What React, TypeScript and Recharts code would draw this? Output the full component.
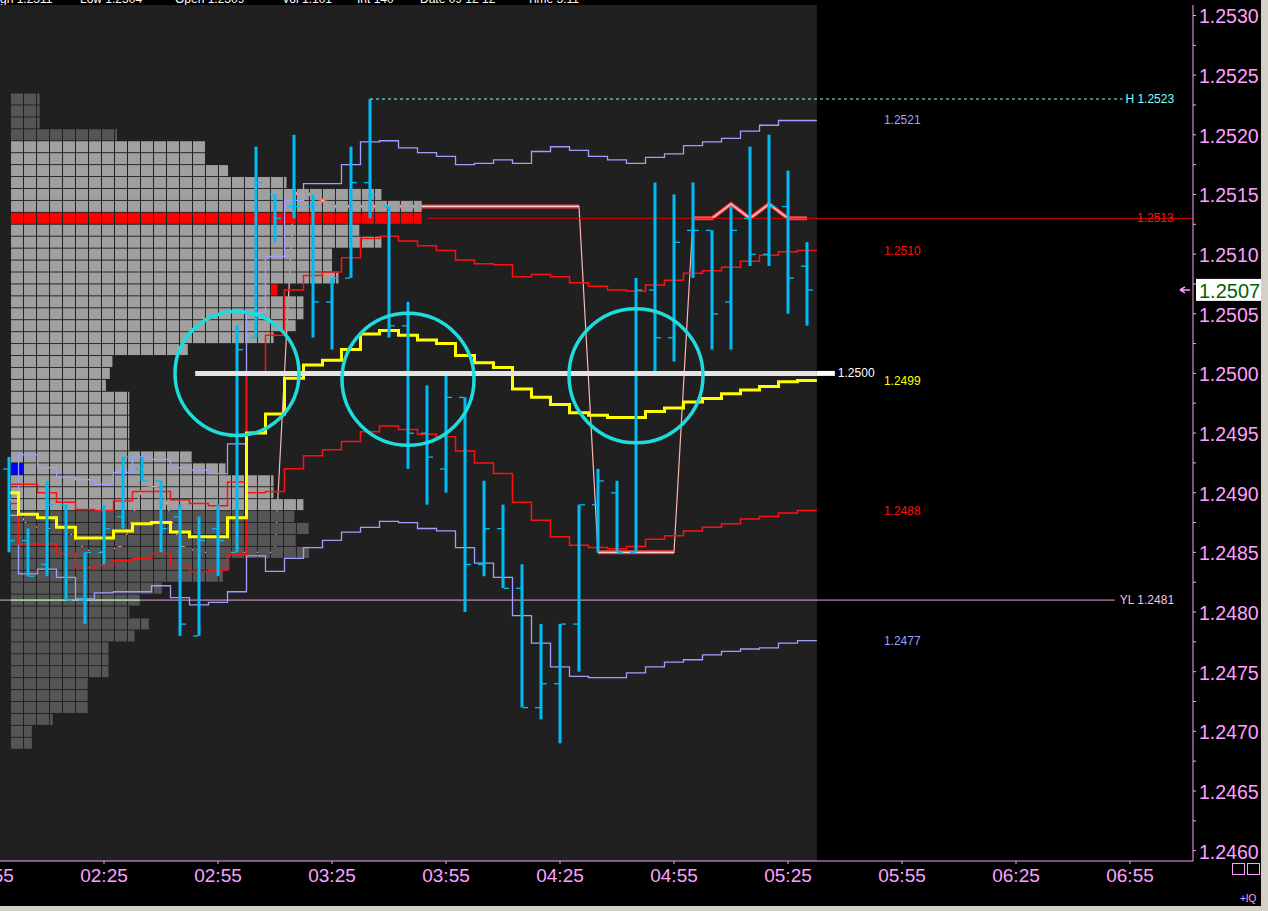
import React from 'react';
import {
  ComposedChart, Line, Bar, Scatter, XAxis, YAxis,
  ReferenceArea, ReferenceLine, ReferenceDot,
} from 'recharts';

// 5 minute bars of the session
const barTimes = [
  '02:00', '02:05', '02:10', '02:15', '02:20', '02:25', '02:30', '02:35', '02:40', '02:45', '02:50', '02:55',
  '03:00', '03:05', '03:10', '03:15', '03:20', '03:25', '03:30', '03:35', '03:40', '03:45', '03:50', '03:55',
  '04:00', '04:05', '04:10', '04:15', '04:20', '04:25', '04:30', '04:35', '04:40', '04:45', '04:50', '04:55',
  '05:00', '05:05', '05:10', '05:15', '05:20', '05:25', '05:30',
];
const opens = [
  1.2492, 1.2486, 1.2484, 1.2489, 1.2481, 1.2485, 1.2488, 1.2492, 1.2491, 1.2488, 1.2478, 1.2487,
  1.2485, 1.2503, 1.2515, 1.2514, 1.2514, 1.2506, 1.2508, 1.2516, 1.2514, 1.2504, 1.2495, 1.2492,
  1.2498, 1.2484, 1.2487, 1.2482, 1.2472, 1.2474, 1.2479, 1.2489, 1.2490, 1.2485, 1.2507, 1.2503,
  1.2512, 1.2512, 1.2506, 1.2513, 1.2510, 1.2514, 1.2509,
];
const highs = [
  1.2493, 1.2487, 1.2491, 1.2489, 1.2485, 1.2489, 1.2493, 1.2493, 1.2491, 1.2489, 1.2488, 1.2489,
  1.2504, 1.2519, 1.2515, 1.2520, 1.2515, 1.2508, 1.2519, 1.2523, 1.2514, 1.2506, 1.2499, 1.2500,
  1.2498, 1.2491, 1.2489, 1.2484, 1.2479, 1.2479, 1.2489, 1.2492, 1.2491, 1.2508, 1.2516, 1.2515,
  1.2516, 1.2512, 1.2514, 1.2519, 1.2520, 1.2517, 1.2511,
];
const lows = [
  1.2485, 1.2483, 1.2483, 1.2481, 1.2479, 1.2484, 1.2487, 1.2491, 1.2485, 1.2478, 1.2478, 1.2483,
  1.2485, 1.2503, 1.2511, 1.2513, 1.2503, 1.2502, 1.2508, 1.2513, 1.2503, 1.2492, 1.2489, 1.2490,
  1.2480, 1.2483, 1.2482, 1.2472, 1.2471, 1.2469, 1.2475, 1.2485, 1.2485, 1.2485, 1.2500, 1.2501,
  1.2508, 1.2502, 1.2502, 1.2509, 1.2509, 1.2505, 1.2504,
];
const closes = [
  1.2486, 1.2483, 1.2489, 1.2481, 1.2485, 1.2487, 1.2493, 1.2491, 1.2487, 1.2479, 1.2486, 1.2486,
  1.2502, 1.2516, 1.2513, 1.2514, 1.2506, 1.2508, 1.2516, 1.2515, 1.2504, 1.2495, 1.2493, 1.2498,
  1.2484, 1.2487, 1.2482, 1.2472, 1.2474, 1.2479, 1.2489, 1.2491, 1.2485, 1.2507, 1.2503, 1.2511,
  1.2512, 1.2505, 1.2512, 1.2510, 1.2514, 1.2508, 1.2507,
];

// session vwap and its two deviation bands
const vwap = [
  1.24900, 1.24882, 1.24879, 1.24871, 1.24862, 1.24862, 1.24868, 1.24874, 1.24875, 1.24867, 1.24863, 1.24863,
  1.24879, 1.24950, 1.24966, 1.24996, 1.25007, 1.25011, 1.25020, 1.25033, 1.25036, 1.25032, 1.25028, 1.25025,
  1.25015, 1.25009, 1.25005, 1.24987, 1.24980, 1.24974, 1.24967, 1.24965, 1.24963, 1.24963, 1.24968, 1.24971,
  1.24976, 1.24979, 1.24983, 1.24986, 1.24989, 1.24993, 1.24994,
];
const band1Upper = [
  1.24907, 1.24907, 1.24900, 1.24892, 1.24886, 1.24885, 1.24893, 1.24901, 1.24901, 1.24894, 1.24891, 1.24889,
  1.24909, 1.25000, 1.25032, 1.25070, 1.25082, 1.25085, 1.25097, 1.25113, 1.25115, 1.25111, 1.25107, 1.25103,
  1.25095, 1.25092, 1.25091, 1.25081, 1.25083, 1.25081, 1.25076, 1.25073, 1.25070, 1.25069, 1.25074, 1.25078,
  1.25084, 1.25086, 1.25089, 1.25094, 1.25099, 1.25102, 1.25103,
];
const band1Lower = [
  1.24891, 1.24857, 1.24857, 1.24849, 1.24837, 1.24839, 1.24843, 1.24845, 1.24849, 1.24839, 1.24834, 1.24835,
  1.24848, 1.24900, 1.24901, 1.24920, 1.24931, 1.24936, 1.24943, 1.24951, 1.24956, 1.24953, 1.24949, 1.24947,
  1.24935, 1.24925, 1.24916, 1.24892, 1.24877, 1.24863, 1.24856, 1.24854, 1.24853, 1.24855, 1.24861, 1.24864,
  1.24868, 1.24871, 1.24874, 1.24878, 1.24880, 1.24883, 1.24885,
];
const band2Upper = [
  1.24881, 1.24932, 1.24921, 1.24913, 1.24911, 1.24907, 1.24917, 1.24930, 1.24928, 1.24921, 1.24919, 1.24916,
  1.24941, 1.25051, 1.25098, 1.25145, 1.25159, 1.25159, 1.25175, 1.25194, 1.25195, 1.25189, 1.25185, 1.25182,
  1.25175, 1.25176, 1.25179, 1.25176, 1.25186, 1.25190, 1.25187, 1.25182, 1.25179, 1.25176, 1.25181, 1.25184,
  1.25191, 1.25194, 1.25197, 1.25203, 1.25208, 1.25212, 1.25212,
];
const band2Lower = [
  1.24881, 1.24832, 1.24836, 1.24829, 1.24811, 1.24816, 1.24817, 1.24817, 1.24822, 1.24812, 1.24806, 1.24808,
  1.24817, 1.24847, 1.24834, 1.24845, 1.24854, 1.24860, 1.24867, 1.24871, 1.24876, 1.24875, 1.24870, 1.24868,
  1.24854, 1.24841, 1.24829, 1.24797, 1.24774, 1.24754, 1.24746, 1.24745, 1.24745, 1.24749, 1.24754, 1.24758,
  1.24760, 1.24764, 1.24767, 1.24769, 1.24770, 1.24774, 1.24776,
];

// trailing stop, it sits under the profile
const trailStop = [
  1.24896, 1.24872, 1.24870, 1.24870, 1.24852, 1.24850, 1.24856, 1.24904, 1.24906, 1.24856, 1.24850, 1.24850,
  1.24850, 1.24850, 1.24850, 1.25151, 1.25150, 1.25140, 1.25140, 1.25140, 1.25140, 1.25140, 1.25140, 1.25140,
  1.25140, 1.25140, 1.25140, 1.25140, 1.25140, 1.25140, 1.25140, 1.24850, 1.24850, 1.24850, 1.24850, 1.24850,
  1.25130, 1.25130, 1.25142, 1.25130, 1.25142, 1.25130, 1.25130,
];
const trailHeavyRuns = [[15, 30], [31, 35], [36, 42]];

// market profile: one row per pip, length in tpo cells
const profilePrices = [
  1.2523, 1.2522, 1.2521, 1.2520, 1.2519, 1.2518, 1.2517, 1.2516, 1.2515, 1.2514, 1.2513,
  1.2512, 1.2511, 1.2510, 1.2509, 1.2508, 1.2507, 1.2506, 1.2505, 1.2504, 1.2503, 1.2502,
  1.2501, 1.2500, 1.2499, 1.2498, 1.2497, 1.2496, 1.2495, 1.2494, 1.2493, 1.2492, 1.2491,
  1.2490, 1.2489, 1.2488, 1.2487, 1.2486, 1.2485, 1.2484, 1.2483, 1.2482, 1.2481, 1.2480,
  1.2479, 1.2478, 1.2477, 1.2476, 1.2475, 1.2474, 1.2473, 1.2472, 1.2471, 1.2470, 1.2469,
];
const profileLengths = [
  2.2, 2.2, 2.2, 8.15, 15, 15, 16.7, 21.2, 28.5, 31.6, 31.6,
  26.8, 28.5, 24.7, 24.7, 25.2, 20.5, 22.5, 22.5, 21.9, 20.2, 13.6,
  7.8, 7.6, 7.3, 9.1, 9.1, 9.1, 9.1, 9.1, 13.9, 16.5, 20.2,
  20.2, 22.5, 21.8, 22.9, 21.9, 23, 16.8, 16.3, 11.6, 9.9, 9.1,
  10.6, 9.5, 7.5, 7.5, 7.5, 5.9, 5.9, 5.9, 3.2, 1.6, 1.6,
];
const pocPrice = 1.2513;
const valueAreaHigh = 1.2519;
const valueAreaLow = 1.2489;
const profileMarks = [
  { price: 1.2507, col: 20, color: '#ff0000' },
  { price: 1.2492, col: 0, color: '#0000ff' },
];
const profileStart = '02:00:32';
const cellMinutes = 3.42;

// reference levels
const sessionHigh = 1.2523;
const sessionHighFrom = '03:35';
const sessionHighTo = '06:53';
const yesterdayLow = 1.2481;
const yesterdayLowTo = '06:51';
const pocLineFrom = '03:50';
const roundLevel = 1.25;
const roundFrom = '02:49';
const roundTo = '05:37:20';
const sessionEnd = '05:32:36';
const bandLabelAt = '05:50:15';
const pocLabelAt = '06:56:50';
const lastPrice = 1.2507;

const circleTimes = ['03:00', '03:45', '04:45'];
const circlePrices = [1.25, 1.24995, 1.24998];
const circleRadii = [62, 66, 67];

const timeTicks = ['01:55', '02:25', '02:55', '03:25', '03:55', '04:25', '04:55', '05:25', '05:55', '06:25', '06:55'];
const priceLabels = [
  1.2460, 1.2465, 1.2470, 1.2475, 1.2480, 1.2485, 1.2490, 1.2495,
  1.2500, 1.2505, 1.2510, 1.2515, 1.2520, 1.2525, 1.2530,
];

const X_DOMAIN: [number, number] = [117.63, 431.58];
const Y_DOMAIN: [number, number] = [1.245913, 1.253088];

const PINK = '#ffa0ff';
const BAR_BLUE = '#00bcf5';
const LAVENDER = '#9e9eff';
const RED = '#ff1010';
const YELLOW = '#ffff00';
const RING = '#1fdcdc';
const FONT = '"Liberation Sans", Arial, sans-serif';

const toMin = (s: string) => {
  const [h, m, sec = 0] = s.split(':').map(Number);
  return h * 60 + m + sec / 60;
};
const fmtTime = (v: number) => {
  const h = Math.floor(v / 60);
  const m = Math.round(v - h * 60);
  return `${String(h).padStart(2, '0')}:${String(m).padStart(2, '0')}`;
};
const trunc4 = (v: number) => (Math.floor(v * 1e4 + 1e-6) / 1e4).toFixed(4);

const rows: Record<string, any>[] = barTimes.map((s, i) => {
  const row: Record<string, any> = {
    t: toMin(s), o: opens[i], h: highs[i], l: lows[i], c: closes[i],
    range: [lows[i], highs[i]],
    vwap: vwap[i], u1: band1Upper[i], d1: band1Lower[i], u2: band2Upper[i], d2: band2Lower[i],
    trail: trailStop[i],
  };
  trailHeavyRuns.forEach(([a, b], k) => {
    row[`heavy${k}`] = i >= a && i <= b ? trailStop[i] : null;
  });
  return row;
});
const last = barTimes.length - 1;
// bands run on to the end of the session
rows.push({
  t: toMin(sessionEnd), range: null,
  vwap: vwap[last], u1: band1Upper[last], d1: band1Lower[last], u2: band2Upper[last], d2: band2Lower[last],
  trail: null, heavy0: null, heavy1: null, heavy2: null,
});

const profileCells = profilePrices.flatMap((p, r) => {
  const len = profileLengths[r];
  const n = Math.ceil(len - 1e-6);
  const inValue = p <= valueAreaHigh + 1e-9 && p >= valueAreaLow - 1e-9;
  const tone = p === pocPrice ? '#ff0000' : inValue ? '#a0a0a0' : '#555555';
  return Array.from({ length: n }, (_, col) => {
    const mark = profileMarks.find(m => m.price === p && m.col === col);
    return {
      t: toMin(profileStart) + col * cellMinutes,
      p,
      frac: Math.min(1, len - col),
      fill: mark ? mark.color : tone,
    };
  });
});

const yTicks = priceLabels.flatMap((v, i) =>
  i < priceLabels.length - 1 ? [v, (v + priceLabels[i + 1]) / 2] : [v]);

const CellShape = (props: any) => {
  const { cx, cy, payload } = props;
  if (cx == null || cy == null) return null;
  const w = payload.frac >= 1 ? 12 : payload.frac * 13;
  return <rect x={cx} y={cy - 5.5} width={w} height={11} fill={payload.fill} />;
};

const OhlcShape = (props: any) => {
  const { x, y, width, height, payload } = props;
  if (x == null || !payload || payload.h == null) return null;
  const top = Math.min(y, y + height);
  const span = Math.abs(height);
  const mid = x + width / 2;
  const k = span / (payload.h - payload.l || 1);
  const oy = top + (payload.h - payload.o) * k;
  const cy = top + (payload.h - payload.c) * k;
  return (
    <g>
      <rect x={mid - 1.5} y={top} width={3} height={Math.max(span, 1)} fill={BAR_BLUE} />
      <rect x={mid - 6} y={oy - 0.5} width={5} height={1.3} fill={BAR_BLUE} />
      <rect x={mid + 1} y={cy - 0.5} width={5} height={1.3} fill={BAR_BLUE} />
    </g>
  );
};

const TimeTick = (props: any) => {
  const { x, y, payload } = props;
  return (
    <g>
      <line x1={x} x2={x} y1={y} y2={y + 3} stroke={PINK} />
      <text x={x} y={y + 21} textAnchor="middle" fill={PINK} fontSize={19} fontFamily={FONT}>
        {fmtTime(payload.value)}
      </text>
    </g>
  );
};

const PriceTick = (props: any) => {
  const { x, y, payload } = props;
  const major = priceLabels.some(v => Math.abs(v - payload.value) < 1e-9);
  return (
    <g>
      <line x1={x} x2={x + 3} y1={y} y2={y} stroke={PINK} />
      {major && (
        <text x={x + 6} y={y + 8} fill={PINK} fontSize={19.5} fontFamily={FONT}>
          {payload.value.toFixed(4)}
        </text>
      )}
    </g>
  );
};

const textAt = (text: string, color: string, dx = 0) => (p: any) => (
  <text x={p.cx + dx} y={p.cy + 4} fill={color} fontSize={12} fontFamily={FONT}>{text}</text>
);

const bandLabels = [
  { v: band2Upper[last], color: LAVENDER },
  { v: band1Upper[last], color: RED },
  { v: vwap[last], color: YELLOW },
  { v: band1Lower[last], color: RED },
  { v: band2Lower[last], color: LAVENDER },
];

const headerWords: [string, number][] = [
  ['gh 1.2511', 0], ['Low 1.2504', 80], ['Open 1.2509', 175], ['Vol 1.101', 282],
  ['Int 140', 357], ['Date 09 12 12', 420], ['Time 5:11', 527],
];

const LastPrice = (p: any) => (
  <g>
    <path
      d={`M${p.cx - 13},${p.cy} L${p.cx - 3},${p.cy} M${p.cx - 13},${p.cy} l5,-3 M${p.cx - 13},${p.cy} l5,3`}
      stroke={PINK} strokeWidth={1.5} fill="none"
    />
    <rect x={p.cx + 3} y={p.cy - 11} width={66} height={22} fill="#ffffff" />
    <text x={p.cx + 6} y={p.cy + 8} fill="#006400" fontSize={20} fontFamily={FONT}>{lastPrice.toFixed(4)}</text>
  </g>
);

export default function App() {
  const sEnd = toMin(sessionEnd);
  return (
    <div style={{ position: 'relative', width: 1268, height: 911, background: '#d4d0c8', overflow: 'hidden' }}>
      <style>{'body{margin:0;}'}</style>
      <div style={{ position: 'absolute', left: 0, top: 0, width: 1261, height: 906, background: '#000' }}>
        <ComposedChart
          width={1261}
          height={906}
          data={rows}
          margin={{ top: 5, right: 0, bottom: 0, left: 0 }}
        >
          <XAxis
            dataKey="t" type="number" domain={X_DOMAIN} allowDataOverflow
            ticks={timeTicks.map(toMin)} interval={0} height={45}
            axisLine={{ stroke: PINK }} tickLine={false} tickSize={0} tickMargin={0}
            tick={(p: any) => <TimeTick {...p} />}
          />
          <YAxis
            orientation="right" type="number" domain={Y_DOMAIN} allowDataOverflow
            ticks={yTicks} interval={0} width={68}
            axisLine={{ stroke: PINK }} tickLine={false} tickSize={0} tickMargin={0}
            tick={(p: any) => <PriceTick {...p} />}
          />

          <ReferenceArea x1={X_DOMAIN[0]} x2={sEnd} fill="#202020" fillOpacity={1} stroke="none" zIndex={1} />

          <Line dataKey="trail" type="linear" stroke="#ffb4b4" strokeWidth={1.2} dot={false} isAnimationActive={false} zIndex={2} />
          {trailHeavyRuns.map((_, k) => (
            <Line key={`ha${k}`} dataKey={`heavy${k}`} type="linear" stroke="#ff3c3c" strokeWidth={4} dot={false}
              connectNulls={false} isAnimationActive={false} zIndex={2} />
          ))}
          {trailHeavyRuns.map((_, k) => (
            <Line key={`hb${k}`} dataKey={`heavy${k}`} type="linear" stroke="#ffd0d0" strokeWidth={1.3} dot={false}
              connectNulls={false} isAnimationActive={false} zIndex={2} />
          ))}

          <Scatter data={profileCells} dataKey="p" shape={CellShape} isAnimationActive={false} zIndex={3} />

          <ReferenceLine
            segment={[{ x: toMin(pocLineFrom), y: pocPrice }, { x: X_DOMAIN[1], y: pocPrice }]}
            stroke="#e00000" strokeWidth={1} zIndex={4}
          />
          <ReferenceLine
            segment={[{ x: X_DOMAIN[0], y: yesterdayLow }, { x: toMin(yesterdayLowTo), y: yesterdayLow }]}
            stroke="#e8a8e8" strokeWidth={1} zIndex={4}
          />
          <ReferenceLine
            segment={[{ x: toMin(profileStart), y: yesterdayLow }, { x: toMin('02:34:30'), y: yesterdayLow }]}
            stroke="#a0ffa0" strokeWidth={1} zIndex={4}
          />
          <ReferenceLine
            segment={[{ x: toMin(sessionHighFrom), y: sessionHigh }, { x: toMin(sessionHighTo), y: sessionHigh }]}
            stroke="#80ffff" strokeWidth={1} strokeDasharray="3 3" zIndex={4}
          />

          <Line dataKey="u2" type="step" stroke={LAVENDER} strokeWidth={1.3} dot={false} isAnimationActive={false} zIndex={5} />
          <Line dataKey="d2" type="step" stroke={LAVENDER} strokeWidth={1.3} dot={false} isAnimationActive={false} zIndex={5} />
          <Line dataKey="u1" type="step" stroke={RED} strokeWidth={1.5} dot={false} isAnimationActive={false} zIndex={5} />
          <Line dataKey="d1" type="step" stroke={RED} strokeWidth={1.5} dot={false} isAnimationActive={false} zIndex={5} />
          <Line dataKey="vwap" type="step" stroke={YELLOW} strokeWidth={3} dot={false} isAnimationActive={false} zIndex={5} />

          <Bar dataKey="range" barSize={3} shape={OhlcShape} isAnimationActive={false} zIndex={6} />

          <ReferenceLine
            segment={[{ x: toMin(roundFrom), y: roundLevel }, { x: sEnd, y: roundLevel }]}
            stroke="#e4e4e4" strokeWidth={5} zIndex={7}
          />
          <ReferenceLine
            segment={[{ x: sEnd, y: roundLevel }, { x: toMin(roundTo), y: roundLevel }]}
            stroke="#ffffff" strokeWidth={5} zIndex={7}
          />

          {circleTimes.map((s, i) => (
            <ReferenceDot key={s} x={toMin(s)} y={circlePrices[i]} r={circleRadii[i]}
              fill="none" stroke={RING} strokeWidth={3.5} ifOverflow="visible" zIndex={8} />
          ))}

          <ReferenceDot x={toMin(roundTo)} y={roundLevel} r={0} ifOverflow="visible"
            shape={textAt(roundLevel.toFixed(4), '#ffffff', 3)} zIndex={9} />
          {bandLabels.map(b => (
            <ReferenceDot key={`${b.color}${b.v}`} x={toMin(bandLabelAt)} y={b.v} r={0} ifOverflow="visible"
              shape={textAt(trunc4(b.v), b.color)} zIndex={9} />
          ))}
          <ReferenceDot x={toMin(sessionHighTo)} y={sessionHigh} r={0} ifOverflow="visible"
            shape={textAt(`H ${sessionHigh.toFixed(4)}`, '#80ffff', 3)} zIndex={9} />
          <ReferenceDot x={toMin(yesterdayLowTo)} y={yesterdayLow} r={0} ifOverflow="visible"
            shape={textAt(`YL ${yesterdayLow.toFixed(4)}`, '#f0c0f0', 5)} zIndex={9} />
          <ReferenceDot x={toMin(pocLabelAt)} y={pocPrice} r={0} ifOverflow="visible"
            shape={textAt(pocPrice.toFixed(4), '#ff1010')} zIndex={9} />
          <ReferenceDot x={X_DOMAIN[1]} y={lastPrice} r={0} ifOverflow="visible" shape={LastPrice} zIndex={9} />
        </ComposedChart>

        <div style={{ position: 'absolute', left: 0, top: 0, width: 1193, height: 5, overflow: 'hidden', background: '#000' }}>
          {headerWords.map(([w, x]) => (
            <span key={w} style={{
              position: 'absolute', left: x, top: -8, color: '#fff', fontSize: 12,
              fontFamily: FONT, whiteSpace: 'pre', lineHeight: '14px',
            }}>{w}</span>
          ))}
        </div>
        <div style={{ position: 'absolute', left: 1232, top: 863, width: 11, height: 10, border: `1px solid ${PINK}` }} />
        <div style={{ position: 'absolute', left: 1247, top: 863, width: 11, height: 10, border: `1px solid ${PINK}` }} />
        <div style={{ position: 'absolute', left: 1240, top: 893, color: PINK, fontSize: 10, fontFamily: FONT }}>+IQ</div>
      </div>
    </div>
  );
}
